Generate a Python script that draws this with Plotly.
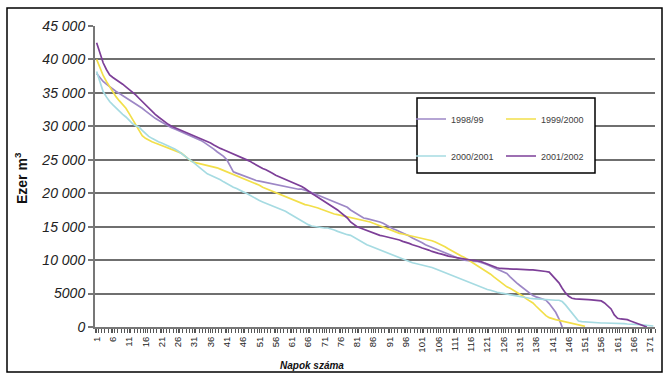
import plotly.graph_objects as go

# ---- data ----
n_days = 172
series_names = ["1998/99", "1999/2000", "2000/2001", "2001/2002"]
series_colors = ["#9d87c6", "#f2df4a", "#a6dbe2", "#7d3f98"]

v_1998_99 = [
    37900, 37300, 36700, 36300, 35900, 35500, 35200, 34900, 34600, 34300,
    34000, 33700, 33300, 33000, 32700, 32300, 31900, 31600, 31200, 30900,
    30600, 30300, 30000, 29800, 29600, 29400, 29200, 29000, 28800, 28600,
    28400, 28200, 27900, 27600, 27300, 27000, 26600, 26200, 25900, 25500,
    25000, 24000, 23200, 23000, 22800, 22600, 22400, 22200, 22100, 21900,
    21800, 21700, 21500, 21400, 21300, 21200, 21100, 21000, 20900, 20900,
    20800, 20700, 20600, 20600, 20500, 20300, 20100, 19900, 19700, 19500,
    19300, 19100, 19000, 18800, 18600, 18400, 18200, 17900, 17500, 17200,
    16900, 16600, 16300, 16200, 16100, 16000, 15900, 15700, 15500, 15200,
    15000, 14700, 14500, 14300, 14100, 13900, 13600, 13300, 13100, 12800,
    12600, 12300, 12100, 11900, 11700, 11500, 11200, 11000, 10800, 10600,
    10400, 10200, 10100, 10000, 9900, 9900, 9800, 9800, 9700, 9500,
    9300, 9100, 8900, 8700, 8500, 8300, 8000, 7500, 7000, 6600,
    6200, 5800, 5400, 5000, 4700, 4500, 4300, 4200, 4000, 3500,
    2800, 2200, 1200, 0,
]

v_1999_2000 = [
    40000, 38700, 37600, 36700, 35900, 35100, 34400, 33800, 33200, 32700,
    31900, 31100, 30400, 29500, 28600, 28200, 27900, 27700, 27500, 27300,
    27200, 27000, 26800, 26600, 26400, 26200, 26000, 25600, 25200, 24800,
    24600, 24500, 24400, 24300, 24200, 24100, 24000, 23800, 23600, 23400,
    23200, 23000, 22900, 22700, 22500, 22300, 22100, 21900, 21700, 21400,
    21200, 20900, 20700, 20500, 20300, 20100, 19900, 19700, 19500, 19300,
    19100, 18800, 18600, 18400, 18300, 18200, 18100, 18000, 17800, 17600,
    17400, 17200, 17000, 16900, 16800, 16700, 16500, 16400, 16300, 16200,
    16100, 16050, 16000, 15800, 15700, 15500, 15300, 15100, 14900, 14700,
    14500, 14300, 14100, 14000, 13900, 13800, 13700, 13600, 13500, 13400,
    13300, 13200, 13100, 12900, 12700, 12500, 12300, 12000, 11700, 11400,
    11100, 10800, 10600, 10400, 10100, 9800, 9500, 9200, 8900, 8600,
    8200, 7900, 7500, 7100, 6700, 6300, 6000, 5800, 5500, 5200,
    5000, 4600, 4200, 3900, 3600, 3100, 2600, 2100, 1700, 1400,
    1200, 1100, 1000, 900, 800, 700, 550, 400, 300, 200, 100,
]

v_2000_2001 = [
    38200, 36700, 35200, 34400, 33700, 33200, 32700, 32200, 31800, 31400,
    30900, 30400, 30100, 29900, 29400, 28900, 28500, 28200, 27900, 27700,
    27500, 27300, 27100, 26900, 26600, 26300, 26000, 25600, 25200, 24900,
    24500, 24100, 23700, 23300, 22900, 22700, 22500, 22300, 22000, 21700,
    21400, 21200, 20900, 20700, 20400, 20200, 20000, 19700, 19400, 19200,
    18900, 18700, 18500, 18400, 18200, 18000, 17800, 17600, 17300, 17000,
    16700, 16400, 16100, 15900, 15600, 15300, 15100, 15000, 14900, 14900,
    14800, 14800, 14700, 14500, 14300, 14100, 13900, 13800, 13700, 13400,
    13100, 12800, 12500, 12300, 12100, 11900, 11700, 11500, 11300, 11100,
    10900, 10700, 10500, 10300, 10100, 9900, 9700, 9600, 9500, 9400,
    9300, 9200, 9000, 8900, 8700, 8500, 8300, 8100, 7900, 7700,
    7500, 7300, 7100, 6900, 6700, 6500, 6300, 6100, 5900, 5800,
    5600, 5500, 5300, 5200, 5100, 5000, 4900, 4800, 4700, 4600,
    4500, 4400, 4350, 4300, 4250, 4200, 4200, 4150, 4100, 4100,
    4050, 4000, 4000, 3800, 3300, 2700, 2000, 1400, 900, 800,
    750, 700, 700, 650, 650, 600, 600, 600, 550, 550,
    550, 500, 500, 450, 450, 400, 400, 350, 300, 250, 200, 150,
]

v_2001_2002 = [
    42500, 41000, 39500, 38500, 37700, 37300, 37000, 36700, 36300, 35900,
    35500, 35200, 34700, 34200, 33700, 33200, 32700, 32200, 31800, 31400,
    31000, 30700, 30300, 30000, 29800, 29600, 29300, 29100, 28900, 28700,
    28500, 28300, 28100, 27900, 27700, 27500, 27200, 26900, 26700, 26500,
    26300, 26100, 25900, 25700, 25500, 25300, 25100, 24800, 24500, 24200,
    23900, 23700, 23500, 23300, 23000, 22700, 22500, 22200, 22000, 21800,
    21600, 21400, 21200, 21000, 20700, 20300, 20000, 19700, 19400, 19100,
    18800, 18500, 18200, 17900, 17500, 17100, 16700, 16300, 15700, 15300,
    15000, 14800, 14600, 14400, 14200, 14000, 13800, 13700, 13600, 13500,
    13400, 13300, 13200, 13000, 12800, 12700, 12500, 12300, 12200, 12000,
    11800, 11700, 11500, 11300, 11100, 11000, 10900, 10700, 10600, 10500,
    10400, 10300, 10200, 10100, 10050, 10000, 9950, 9900, 9800, 9600,
    9400, 9200, 9000, 8850, 8750, 8700, 8700, 8700, 8650, 8650,
    8600, 8600, 8600, 8550, 8550, 8500, 8500, 8400, 8300, 8200,
    7700, 7100, 6600, 5800, 5100, 4600, 4300, 4200, 4200, 4150,
    4100, 4100, 4050, 4000, 4000, 3900, 3600, 3200, 2700, 1800,
    1300, 1200, 1150, 1100, 900, 700, 500, 300, 100, 0,
]

all_values = [v_1998_99, v_1999_2000, v_2000_2001, v_2001_2002]
legend_ids = ["legend", "legend", "legend2", "legend2"]

y_tickvals = [0, 5000, 10000, 15000, 20000, 25000, 30000, 35000, 40000, 45000]
y_ticktext = ["0", "5000", "10 000", "15 000", "20 000", "25 000",
              "30 000", "35 000", "40 000", "45 000"]
x_tickvals = list(range(1, n_days, 5))
x_ticktext = [str(v) for v in x_tickvals]

# ---- layout geometry (pixels) ----
W, H = 663, 374
L, R, T, B = 95, 8, 26, 47
PW, PH = W - L - R, H - T - B


def px_x(px):
    return (px - L) / PW


def px_y(py):
    return (H - B - py) / PH


sans = "Liberation Sans, Arial, sans-serif"

fig = go.Figure()
for name, color, vals, lg in zip(series_names, series_colors, all_values, legend_ids):
    fig.add_trace(go.Scatter(
        x=list(range(1, len(vals) + 1)), y=vals, mode="lines", name=name,
        line=dict(color=color, width=1.7), legend=lg, hoverinfo="skip",
    ))

legend_common = dict(
    orientation="h", xanchor="left", yanchor="middle",
    entrywidth=45, entrywidthmode="pixels", itemwidth=30,
    bgcolor="rgba(0,0,0,0)", borderwidth=0,
    font=dict(family=sans, size=9, color="#404040"),
)

fig.update_layout(
    width=W, height=H,
    margin=dict(l=L, r=R, t=T, b=B, autoexpand=False),
    paper_bgcolor="white", plot_bgcolor="white",
    showlegend=True,
    xaxis=dict(
        range=[0.5, n_days + 0.5], tickmode="array", tickvals=x_tickvals,
        ticktext=x_ticktext, tickangle=-90, ticks="outside", ticklen=4,
        tickcolor="#555555", tickwidth=1, showgrid=False, zeroline=False,
        showline=True, linecolor="#777777", linewidth=2,
        tickfont=dict(family=sans, size=9.5, color="#222222"),
        minor=dict(ticks="outside", ticklen=4, tick0=0.5, dtick=1,
                   tickcolor="#555555", tickwidth=1, showgrid=False),
    ),
    yaxis=dict(
        range=[0, 45000], tickmode="array", tickvals=y_tickvals,
        ticktext=y_ticktext, ticks="outside", ticklen=5, tickcolor="#777777",
        tickwidth=2, showgrid=True, gridcolor="#6f6f6f", gridwidth=1.5,
        zeroline=False, showline=True, linecolor="#777777", linewidth=2,
        tickfont=dict(family=sans, size=14, color="#222222", style="italic"),
    ),
    legend=dict(legend_common, x=px_x(411), y=px_y(119)),
    legend2=dict(legend_common, x=px_x(411), y=px_y(156)),
    shapes=[
        dict(type="rect", xref="paper", yref="paper",
             x0=px_x(7), x1=px_x(662), y0=px_y(372), y1=px_y(8),
             line=dict(color="#000000", width=1.5), fillcolor="rgba(0,0,0,0)",
             layer="below"),
        dict(type="rect", xref="paper", yref="paper",
             x0=px_x(417), x1=px_x(595), y0=px_y(173), y1=px_y(98),
             line=dict(color="#000000", width=1.5), fillcolor="white",
             layer="above"),
    ],
    annotations=[
        dict(text="Ezer m<sup>3</sup>", xref="paper", yref="paper",
             x=px_x(21), y=px_y(178), textangle=-90, showarrow=False,
             xanchor="center", yanchor="middle",
             font=dict(family=sans, size=14, color="#111111", weight="bold")),
        dict(text="Napok száma", xref="paper", yref="paper",
             x=px_x(312), y=px_y(365), showarrow=False,
             xanchor="center", yanchor="middle",
             font=dict(family=sans, size=10, color="#111111",
                       style="italic", weight="bold")),
    ],
)

fig.write_html("out.html")
